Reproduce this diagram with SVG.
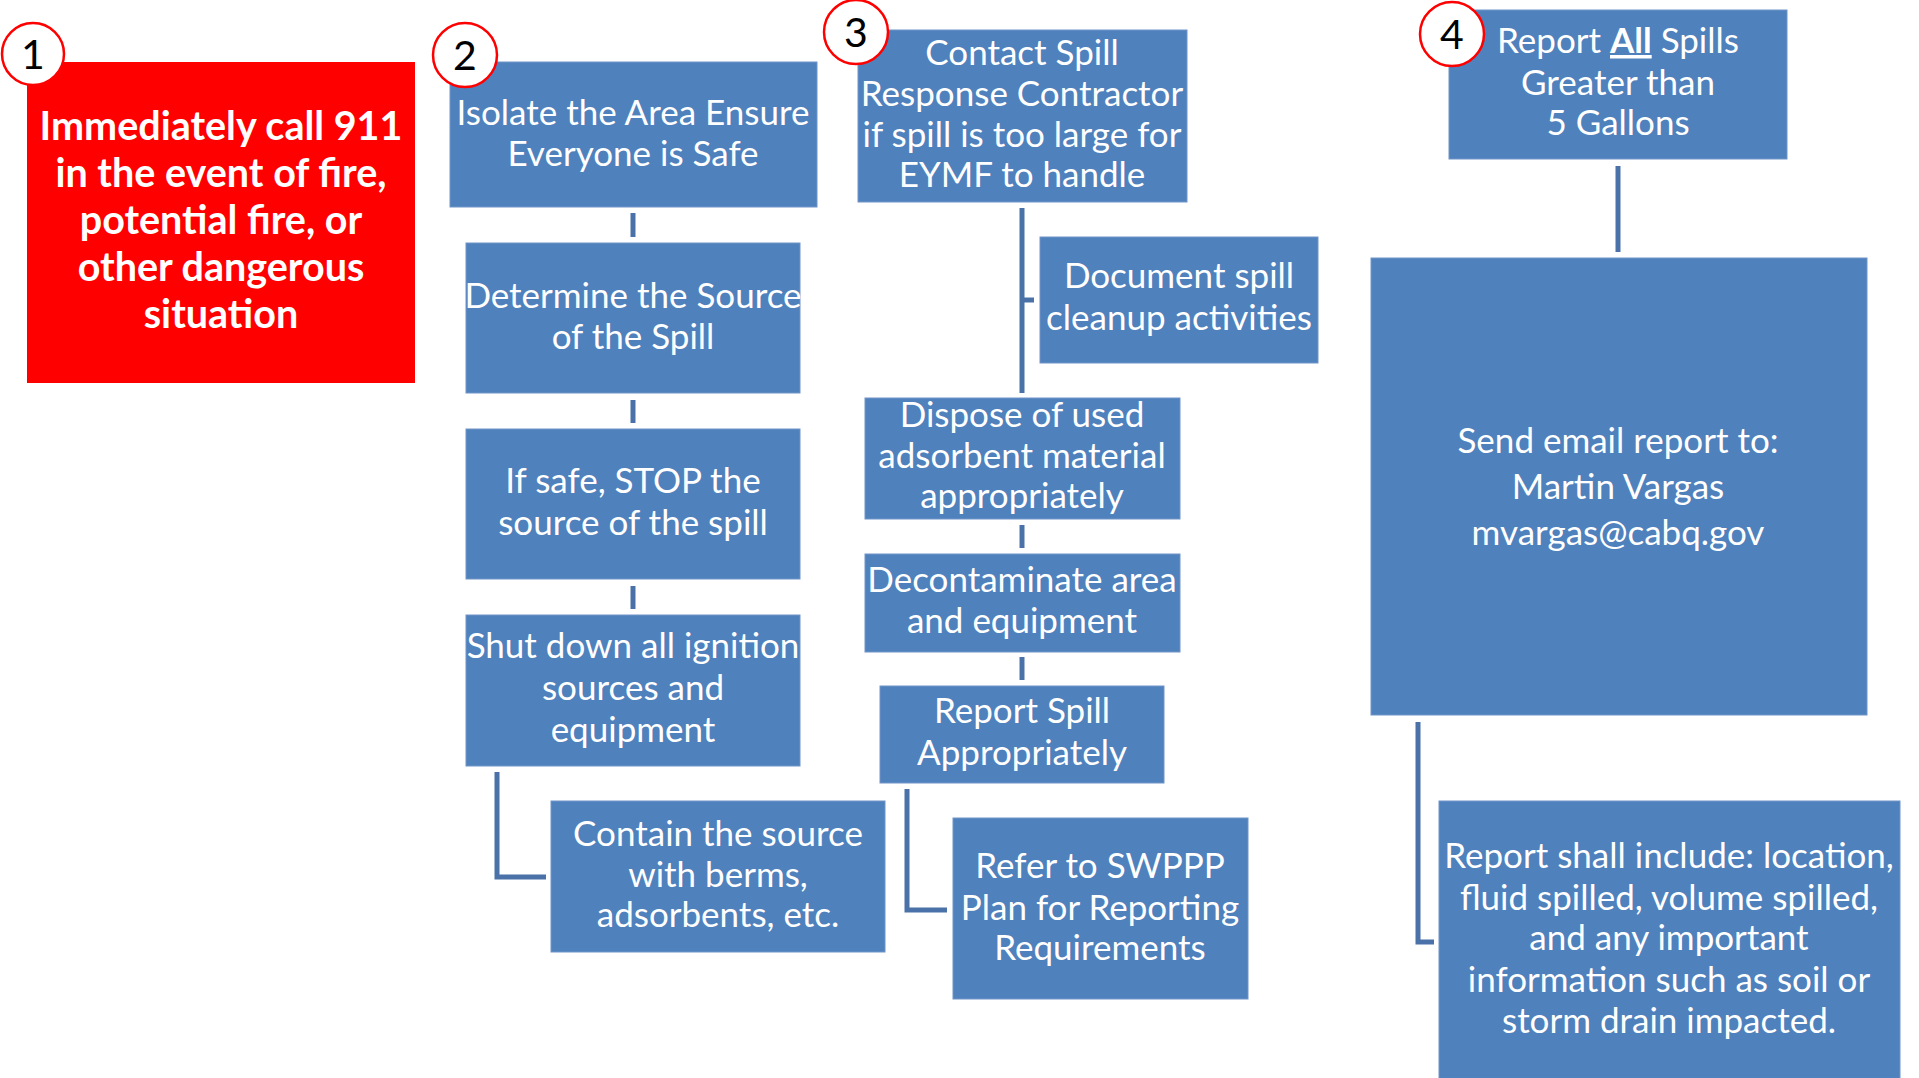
<svg xmlns="http://www.w3.org/2000/svg" width="1919" height="1078" viewBox="0 0 1919 1078">
<style>
.box{fill:#4F81BD;stroke:#7094C8;stroke-width:1}
.red{fill:#FF0000}
.t{font-family:Lato,"Open Sans","Liberation Sans",sans-serif;font-size:35px;fill:#FFFFFF;text-anchor:middle}
.tb{font-family:Lato,"Open Sans","Liberation Sans",sans-serif;font-size:39.5px;font-weight:bold;fill:#FFFFFF;text-anchor:middle}
.num{font-family:Lato,"Open Sans","Liberation Sans",sans-serif;font-size:41px;fill:#000000;text-anchor:middle}
.badge{fill:#FFFFFF;stroke:#FF0000;stroke-width:2.5}
.c{fill:none;stroke:#4A72A8;stroke-width:5}
</style>
<rect width="1919" height="1078" fill="#FFFFFF"/>
<g id="connectors">
<line class="c" x1="633" y1="213" x2="633" y2="237"/>
<line class="c" x1="633" y1="400" x2="633" y2="423"/>
<line class="c" x1="633" y1="586" x2="633" y2="609"/>
<path class="c" d="M497 772 V877 H546"/>
<line class="c" x1="1022" y1="208" x2="1022" y2="393"/>
<line class="c" x1="1022" y1="300" x2="1034" y2="300"/>
<line class="c" x1="1022" y1="525" x2="1022" y2="548"/>
<line class="c" x1="1022" y1="657" x2="1022" y2="680"/>
<path class="c" d="M907 789 V910 H947"/>
<line class="c" x1="1618" y1="166" x2="1618" y2="252"/>
<path class="c" d="M1418 722 V942 H1434"/>
</g>
<g id="n1">
<rect class="red" x="27" y="62" width="388" height="321"/>
<text class="tb"><tspan x="221" y="140">Immediately call 911</tspan><tspan x="221" y="187">in the event of fire,</tspan><tspan x="221" y="234">potential fire, or</tspan><tspan x="221" y="281">other dangerous</tspan><tspan x="221" y="328">situation</tspan></text>
<circle class="badge" cx="33" cy="54" r="31"/>
<text class="num" x="33" y="69">1</text>
</g>
<g id="n2">
<rect class="box" x="450" y="62" width="367" height="145"/>
<text class="t"><tspan x="633" y="125">Isolate the Area Ensure</tspan><tspan x="633" y="166">Everyone is Safe</tspan></text>
<circle class="badge" cx="465" cy="55" r="32"/>
<text class="num" x="465" y="70">2</text>
</g>
<g id="n2b">
<rect class="box" x="466" y="243" width="334" height="150"/>
<text class="t"><tspan x="633" y="308">Determine the Source</tspan><tspan x="633" y="349">of the Spill</tspan></text>
</g>
<g id="n2c">
<rect class="box" x="466" y="429" width="334" height="150"/>
<text class="t"><tspan x="633" y="493">If safe, STOP the</tspan><tspan x="633" y="535">source of the spill</tspan></text>
</g>
<g id="n2d">
<rect class="box" x="466" y="615" width="334" height="151"/>
<text class="t"><tspan x="633" y="658">Shut down all ignition</tspan><tspan x="633" y="700">sources and</tspan><tspan x="633" y="742">equipment</tspan></text>
</g>
<g id="n2e">
<rect class="box" x="551" y="801" width="334" height="151"/>
<text class="t"><tspan x="718" y="846">Contain the source</tspan><tspan x="718" y="887">with berms,</tspan><tspan x="718" y="927">adsorbents, etc.</tspan></text>
</g>
<g id="n3">
<rect class="box" x="858" y="30" width="329" height="172"/>
<text class="t"><tspan x="1022" y="65">Contact Spill</tspan><tspan x="1022" y="106">Response Contractor</tspan><tspan x="1022" y="147">if spill is too large for</tspan><tspan x="1022" y="187">EYMF to handle</tspan></text>
<circle class="badge" cx="856" cy="32" r="32"/>
<text class="num" x="856" y="47">3</text>
</g>
<g id="n3b">
<rect class="box" x="1040" y="237" width="278" height="126"/>
<text class="t"><tspan x="1179" y="288">Document spill</tspan><tspan x="1179" y="330">cleanup activities</tspan></text>
</g>
<g id="n3c">
<rect class="box" x="865" y="398" width="315" height="121"/>
<text class="t"><tspan x="1022" y="427">Dispose of used</tspan><tspan x="1022" y="468">adsorbent material</tspan><tspan x="1022" y="508">appropriately</tspan></text>
</g>
<g id="n3d">
<rect class="box" x="865" y="554" width="315" height="98"/>
<text class="t"><tspan x="1022" y="592">Decontaminate area</tspan><tspan x="1022" y="633">and equipment</tspan></text>
</g>
<g id="n3e">
<rect class="box" x="880" y="686" width="284" height="97"/>
<text class="t"><tspan x="1022" y="723">Report Spill</tspan><tspan x="1022" y="765">Appropriately</tspan></text>
</g>
<g id="n3f">
<rect class="box" x="953" y="818" width="295" height="181"/>
<text class="t"><tspan x="1100" y="878">Refer to SWPPP</tspan><tspan x="1100" y="920">Plan for Reporting</tspan><tspan x="1100" y="960">Requirements</tspan></text>
</g>
<g id="n4">
<rect class="box" x="1449" y="10" width="338" height="149"/>
<text class="t"><tspan x="1618" y="53">Report <tspan font-weight="bold" text-decoration="underline">All</tspan> Spills</tspan><tspan x="1618" y="95">Greater than</tspan><tspan x="1618" y="135">5 Gallons</tspan></text>
<circle class="badge" cx="1452" cy="34" r="32"/>
<text class="num" x="1452" y="49">4</text>
</g>
<g id="n4b">
<rect class="box" x="1371" y="258" width="496" height="457"/>
<text class="t"><tspan x="1618" y="453">Send email report to:</tspan><tspan x="1618" y="499">Martin Vargas</tspan><tspan x="1618" y="545">mvargas@cabq.gov</tspan></text>
</g>
<g id="n4c">
<rect class="box" x="1439" y="801" width="461" height="290"/>
<text class="t"><tspan x="1669" y="868">Report shall include: location,</tspan><tspan x="1669" y="910">fluid spilled, volume spilled,</tspan><tspan x="1669" y="950">and any important</tspan><tspan x="1669" y="992">information such as soil or</tspan><tspan x="1669" y="1033">storm drain impacted.</tspan></text>
</g>
</svg>
